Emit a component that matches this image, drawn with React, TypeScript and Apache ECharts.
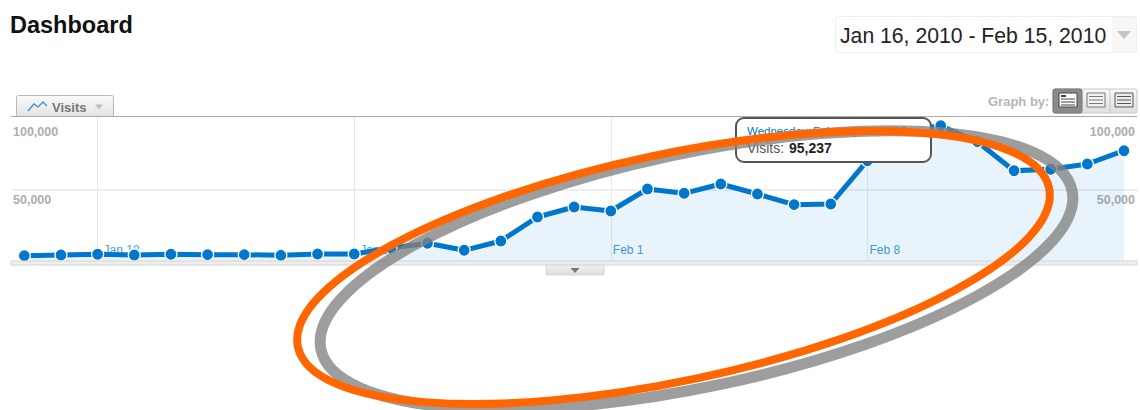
import React, { useEffect, useRef } from "react";
import * as echarts from "echarts";

const dates = ["Jan 16","Jan 17","Jan 18","Jan 19","Jan 20","Jan 21","Jan 22","Jan 23","Jan 24","Jan 25","Jan 26","Jan 27","Jan 28","Jan 29","Jan 30","Jan 31","Feb 1","Feb 2","Feb 3","Feb 4","Feb 5","Feb 6","Feb 7","Feb 8","Feb 9","Feb 10","Feb 11","Feb 12","Feb 13","Feb 14","Feb 15"];
const visits = [3730,4225,4720,4225,4720,4440,4440,4010,4930,4930,9150,12465,7535,14085,30985,38030,35210,50700,47675,54225,47185,39650,40140,70630,91550,95237,84015,63590,64580,68310,77675];
const labelledDates = ["Jan 18","Jan 25","Feb 1","Feb 8"];
const yTicks = [50000, 100000];
const yTickLabels: Record<number, string> = { 50000: "{b|50,000}", 100000: "{a|100,000}" };
const FONT = "Arial, 'Liberation Sans', sans-serif";

const yLabelRich = {
  a: { color: "#adadad", fontFamily: FONT, fontWeight: "bold", fontSize: 12.5, padding: [26, 0, 0, 0] },
  b: { color: "#adadad", fontFamily: FONT, fontWeight: "bold", fontSize: 12.5, padding: [19, 0, 0, 0] },
};
const xLabelBase = { color: "#3f9fd8", fontFamily: FONT, fontSize: 12 };
const xLabelRich = {
  j: { ...xLabelBase, padding: [0, 0, 0, 6] },
  f: { ...xLabelBase, padding: [0, 0, 0, 2] },
};

function tri(cx: number, cy: number, w: number, h: number, fill: string, z = 5) {
  return { type: "polygon", z, shape: { points: [[cx - w / 2, cy], [cx + w / 2, cy], [cx, cy + h]] }, style: { fill } };
}
function rect(x: number, y: number, width: number, height: number, style: any, z = 5, r = 0) {
  return { type: "rect", z, shape: { x, y, width, height, r }, style };
}
function txt(x: number, y: number, text: string, font: string, fill: string, z = 5) {
  return { type: "text", z, x, y, style: { text, font, fill, verticalAlign: "middle", align: "left" } };
}
function viewIcon(x: number, y: number, stroke: string, fill: string, head: boolean) {
  const out: any[] = [rect(x, y, 18, 14, { fill, stroke, lineWidth: 1 }, 6)];
  const ys = head ? [6, 9, 12] : [3.5, 7, 10.5];
  ys.forEach((d) => out.push({ type: "line", z: 6, shape: { x1: x + 2, y1: y + d, x2: x + 16, y2: y + d }, style: { stroke, lineWidth: 1 } }));
  if (head) out.push(rect(x + 2, y + 2, 5, 2, { fill: stroke }, 6));
  return out;
}

const vGrad = (a: string, b: string) => new echarts.graphic.LinearGradient(0, 0, 0, 1, [{ offset: 0, color: a }, { offset: 1, color: b }]);

export default function App() {
  const ref = useRef<HTMLDivElement>(null);
  useEffect(() => {
    const chart = echarts.init(ref.current!, undefined, { renderer: "svg" });
    const showDate = (i: number) => labelledDates.includes(dates[i]);
    chart.setOption({
      animation: false,
      backgroundColor: "#fff",
      grid: [
        { left: 12, width: 1126, top: 119, height: 142 },
        { left: 24.3, width: 1099.7, top: 117, height: 144 },
      ],
      xAxis: [
        { gridIndex: 0, type: "value", min: 0, max: 1, show: false },
        {
          gridIndex: 1, type: "category", data: dates, boundaryGap: false,
          axisLine: { show: false }, axisTick: { show: false },
          axisLabel: {
            inside: true, interval: (i: number) => showDate(i), align: "left", margin: 5,
            formatter: (v: string) => (v.startsWith("Jan") ? `{j|${v}}` : `{f|${v}}`), rich: xLabelRich,
          },
          splitLine: { show: true, interval: (i: number) => showDate(i), lineStyle: { color: "#e8e8e8", width: 1 } },
        },
      ],
      yAxis: [
        {
          gridIndex: 0, type: "value", min: 0, max: 100000, interval: 50000, position: "left",
          axisLine: { show: false }, axisTick: { show: false },
          axisLabel: { inside: true, margin: 1, formatter: (v: number) => (yTicks.includes(v) ? yTickLabels[v] : ""), rich: yLabelRich },
          splitLine: { show: true, showMinLine: false, showMaxLine: false, lineStyle: { color: "#eeeeee", width: 2 } },
        },
        {
          gridIndex: 0, type: "value", min: 0, max: 100000, interval: 50000, position: "right",
          axisLine: { show: false }, axisTick: { show: false },
          axisLabel: { inside: true, margin: 3, formatter: (v: number) => (yTicks.includes(v) ? yTickLabels[v] : ""), rich: yLabelRich },
          splitLine: { show: false },
        },
        { gridIndex: 1, type: "value", min: 0, max: 101408, show: false, splitLine: { show: false } },
      ],
      series: [
        {
          type: "line", xAxisIndex: 1, yAxisIndex: 2, data: visits, showSymbol: true, showAllSymbol: true,
          symbol: "circle", symbolSize: 12, smooth: false,
          lineStyle: { color: "#0077cc", width: 5 },
          itemStyle: { color: "#0077cc", borderColor: "#ffffff", borderWidth: 1.2 },
          areaStyle: { color: "rgba(0,119,204,0.125)" },
        },
      ],
      graphic: {
        elements: [
          txt(10, 25, "Dashboard", `bold 23.5px ${FONT}`, "#111"),
          // date picker
          rect(835.5, 16.5, 301, 36, { fill: "#fff", stroke: "#efefef", lineWidth: 1 }, 4, 2),
          rect(1112, 17, 24, 35, { fill: "#f6f6f6" }, 4),
          txt(840, 35, "Jan 16, 2010 - Feb 15, 2010", `21.2px ${FONT}`, "#222"),
          tri(1124, 31, 14, 8, "#c4c4c4"),
          // metric tab
          rect(16.5, 95.5, 97, 21, { fill: vGrad("#fbfbfb", "#e2e2e2"), stroke: "#b8b8b8", lineWidth: 1 }, 4, 2),
          { type: "polyline", z: 5, shape: { points: [[28, 111], [34, 104], [38, 107], [43, 102], [47, 106]] }, style: { stroke: "#3f8fd8", lineWidth: 1.3, fill: "none" } },
          txt(52, 107, "Visits", `bold 13px ${FONT}`, "#777"),
          tri(99, 104.5, 8, 5, "#bdbdbd"),
          // graph by
          txt(988, 101, "Graph by:", `bold 13px ${FONT}`, "#b5b5b5"),
          rect(1053, 89, 84, 24, { fill: vGrad("#f8f8f8", "#dedede"), stroke: "#c8c8c8", lineWidth: 1 }, 4, 2),
          rect(1053, 89, 29, 24, { fill: "#8a8a8a", stroke: "#777", lineWidth: 1 }, 5, 2),
          { type: "line", z: 5, shape: { x1: 1110, y1: 89, x2: 1110, y2: 113 }, style: { stroke: "#c8c8c8", lineWidth: 1 } },
          ...viewIcon(1059, 93, "#444", "#fff", true),
          ...viewIcon(1087, 93, "#777", "#f2f2f2", false),
          ...viewIcon(1115, 93, "#555", "#ececec", false),
          // chart frame
          { type: "line", z: 4, shape: { x1: 11, y1: 116.5, x2: 1137, y2: 116.5 }, style: { stroke: "#aaaaaa", lineWidth: 1 } },
          rect(11, 261, 1126, 4, { fill: "#eeeeee", stroke: "#d4d4d4", lineWidth: 1 }, 4),
          rect(546, 265, 58, 10, { fill: vGrad("#f2f2f2", "#dcdcdc"), stroke: "#d8d8d8", lineWidth: 1 }, 4, 1),
          tri(575, 268, 9, 5, "#777"),
          // tooltip
          rect(736, 118, 195, 44, { fill: "#fff", stroke: "#555", lineWidth: 2 }, 10, 8),
          txt(747, 131, "Wednesday, February 10, 2010", `11.5px ${FONT}`, "#0077cc", 11),
          txt(747, 148, "Visits:", `14px ${FONT}`, "#555", 11),
          txt(789, 148, "95,237", `bold 14px ${FONT}`, "#222", 11),
          // hand-drawn annotation
          { type: "ellipse", z: 20, x: 696.5, y: 270, rotation: 0.2086, shape: { cx: 0, cy: 0, rx: 384, ry: 117 }, style: { fill: "none", stroke: "rgba(130,130,130,0.78)", lineWidth: 11 } },
          { type: "ellipse", z: 21, x: 673.5, y: 267.5, rotation: 0.2086, shape: { cx: 0, cy: 0, rx: 384, ry: 113.4 }, style: { fill: "none", stroke: "#ff6600", lineWidth: 8 } },
        ],
      },
    });
    return () => chart.dispose();
  }, []);
  return <div ref={ref} style={{ position: "fixed", left: 0, top: 0, width: 1140, height: 410 }} />;
}
